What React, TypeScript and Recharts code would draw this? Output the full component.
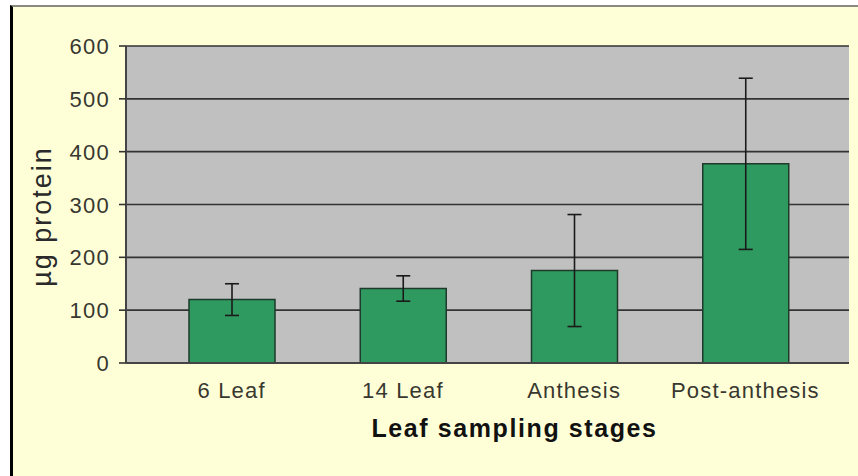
import React from 'react';
import { BarChart, Bar, XAxis, YAxis, CartesianGrid, ErrorBar, Label } from 'recharts';

const categories = ['6 Leaf', '14 Leaf', 'Anthesis', 'Post-anthesis'];
const means = [120, 141, 175, 377];
const errors = [30, 24, 106, 162];
const yTicks = [0, 100, 200, 300, 400, 500, 600];

const data = categories.map((c, i) => ({ cat: c, value: means[i], err: errors[i] }));

const FONT = '"Liberation Sans", Arial, sans-serif';

const XTick = (props: any) => {
  const { x, y, payload } = props;
  return (
    <text x={x} y={y} dy={27} textAnchor="middle" fontFamily={FONT} fontSize={22} fill="#383830" letterSpacing={1.2}>
      {payload.value}
    </text>
  );
};

const YTick = (props: any) => {
  const { x, y, payload } = props;
  return (
    <text x={x} y={y} dx={-7} dy={8} textAnchor="end" fontFamily={FONT} fontSize={22} fill="#383830" letterSpacing={1.3}>
      {payload.value}
    </text>
  );
};

const XTitle = (props: any) => {
  const vb = props.viewBox;
  return (
    <text x={vb.x + vb.width / 2 + 27} y={vb.y + 74} textAnchor="middle" fontFamily={FONT} fontSize={25} fontWeight="bold" fill="#111" letterSpacing={1.6}>
      Leaf sampling stages
    </text>
  );
};

const YTitle = (props: any) => {
  const vb = props.viewBox;
  const cx = vb.x + 32;
  const cy = vb.y + vb.height / 2 + 12;
  return (
    <text x={cx} y={cy} transform={`rotate(-90 ${cx} ${cy})`} dy={9} textAnchor="middle" fontFamily={FONT} fontSize={27} fill="#2a2a2a" letterSpacing={2}>
      µg protein
    </text>
  );
};

export default function App() {
  return (
    <div style={{ position: 'absolute', left: 0, top: 0, width: 858, height: 476, background: '#ffffff', overflow: 'hidden' }}>
      <div style={{ position: 'absolute', left: 10, top: 5, width: 848, height: 471, background: '#FFFFD7', borderLeft: '3px solid #000', borderTop: '2px solid #8a8a80', boxSizing: 'border-box' }} />
      <div style={{ position: 'absolute', left: 0, top: 0 }}>
        <BarChart width={858} height={476} data={data} margin={{ top: 46, right: 9, left: 10, bottom: 33 }} barCategoryGap={0}>
          <CartesianGrid vertical={false} fill="#C0C0C0" stroke="#333" strokeWidth={1.6} />
          <XAxis dataKey="cat" height={80} padding={{ left: 20, right: 18 }} axisLine={{ stroke: '#444', strokeWidth: 2 }} tickLine={false} tick={<XTick />} interval={0}>
            <Label content={<XTitle />} />
          </XAxis>
          <YAxis width={116} domain={[0, 600]} ticks={yTicks} tickSize={7} axisLine={{ stroke: '#444', strokeWidth: 2 }} tickLine={{ stroke: '#333', strokeWidth: 1.6 }} tick={<YTick />} interval={0}>
            <Label content={<YTitle />} />
          </YAxis>
          <YAxis yAxisId="r" orientation="right" width={0} domain={[0, 600]} ticks={yTicks} tick={false} tickLine={false} axisLine={{ stroke: '#555', strokeWidth: 2 }} />
          <Bar dataKey="value" barSize={86} fill="#2F9A60" stroke="#1E3A2A" strokeWidth={1.5} isAnimationActive={false}>
            <ErrorBar dataKey="err" width={7} stroke="#1a1a1a" strokeWidth={1.6} />
          </Bar>
        </BarChart>
      </div>
    </div>
  );
}
